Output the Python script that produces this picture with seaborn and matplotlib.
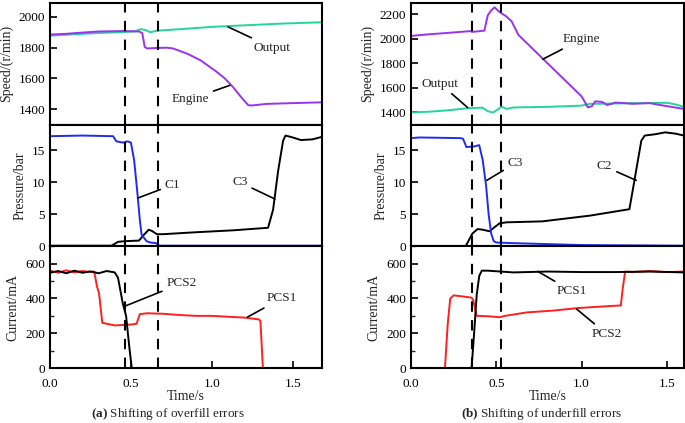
import matplotlib
matplotlib.use("Agg")
import matplotlib.pyplot as plt
import seaborn as sns
from matplotlib.ticker import MultipleLocator, FormatStrFormatter

# ── data ────────────────────────────────────────────────────────────────────
# (a) overfill errors
a_out_t = [0, 0.1, 0.2, 0.3, 0.46, 0.52, 0.56, 0.59, 0.62, 0.66, 0.8, 1.0, 1.2, 1.4, 1.68]
a_out_v = [1878, 1884, 1890, 1895, 1902, 1905, 1920, 1915, 1900, 1910, 1920, 1935, 1945, 1955, 1965]
a_eng_t = [0, 0.1, 0.2, 0.3, 0.45, 0.55, 0.57, 0.585, 0.6, 0.66, 0.72, 0.76, 0.85, 0.93,
           1.03, 1.08, 1.13, 1.18, 1.225, 1.25, 1.34, 1.5, 1.68]
a_eng_v = [1885, 1890, 1898, 1905, 1908, 1905, 1895, 1805, 1795, 1798, 1800, 1795, 1760, 1718,
           1643, 1600, 1545, 1480, 1426, 1425, 1435, 1440, 1445]
a_c1_t = [0, 0.2, 0.39, 0.41, 0.45, 0.48, 0.50, 0.52, 0.54, 0.555, 0.566, 0.597, 0.62, 0.655, 0.675, 1.0, 1.68]
a_c1_v = [17.2, 17.3, 17.2, 16.4, 16.2, 16.4, 16.2, 13.4, 8.3, 4.1, 1.8, 0.8, 0.6, 0.5, 0.1, 0.1, 0.1]
a_c3_t = [0, 0.38, 0.42, 0.46, 0.55, 0.58, 0.61, 0.63, 0.66, 0.70, 0.9, 1.13, 1.347, 1.378, 1.41,
          1.44, 1.455, 1.5, 1.55, 1.62, 1.68]
a_c3_v = [0.1, 0.1, 0.7, 0.8, 0.9, 1.8, 2.6, 2.4, 1.9, 1.9, 2.2, 2.5, 2.9, 5.7, 11.9,
          16.5, 17.3, 17.0, 16.6, 16.7, 17.1]
a_pcs2_t = [0, 0.05, 0.1, 0.15, 0.2, 0.25, 0.3, 0.35, 0.40, 0.42, 0.45, 0.47, 0.49, 0.505, 0.55, 1.68]
a_pcs2_v = [548, 558, 545, 560, 548, 556, 545, 558, 550, 520, 370, 300, 120, 0, 0, 0]
a_pcs1_t = [0, 0.05, 0.1, 0.15, 0.2, 0.25, 0.273, 0.29, 0.303, 0.323, 0.4, 0.5, 0.535, 0.555,
            0.6, 0.7, 0.8, 0.9, 1.0, 1.1, 1.2, 1.29, 1.30, 1.315, 1.68]
a_pcs1_v = [560, 548, 562, 550, 558, 552, 555, 470, 430, 260, 245, 250, 255, 310,
            315, 312, 305, 300, 300, 295, 290, 280, 270, 0, 0]

# (b) underfill errors
b_eng_t = [0, 0.1, 0.2, 0.345, 0.36, 0.43, 0.45, 0.47, 0.49, 0.52, 0.56, 0.59, 0.63, 0.8, 1.0,
           1.037, 1.06, 1.08, 1.12, 1.15, 1.2, 1.3, 1.4, 1.46, 1.6]
b_eng_v = [2022, 2035, 2045, 2061, 2055, 2065, 2190, 2230, 2255, 2215, 2180, 2140, 2030, 1800, 1530,
           1441, 1450, 1490, 1485, 1460, 1480, 1470, 1475, 1460, 1428]
b_out_t = [0, 0.1, 0.2, 0.345, 0.42, 0.45, 0.48, 0.51, 0.53, 0.56, 0.6, 0.8, 1.0, 1.05, 1.1,
           1.3, 1.5, 1.55, 1.6]
b_out_v = [1400, 1405, 1415, 1435, 1438, 1410, 1398, 1425, 1447, 1428, 1440, 1445, 1455, 1470, 1470,
           1475, 1478, 1465, 1445]
b_c3_t = [0, 0.05, 0.29, 0.305, 0.325, 0.37, 0.40, 0.42, 0.44, 0.455, 0.47, 0.485, 0.5, 0.6, 1.0, 1.6]
b_c3_v = [16.9, 17.0, 16.9, 16.8, 15.5, 15.6, 15.8, 13.5, 9.5, 5.0, 2.0, 0.8, 0.6, 0.5, 0.2, 0.1]
b_c2_t = [0, 0.32, 0.34, 0.36, 0.39, 0.42, 0.46, 0.49, 0.52, 0.56, 0.77, 1.05, 1.28, 1.30, 1.32,
          1.35, 1.37, 1.43, 1.49, 1.55, 1.6]
b_c2_v = [0, 0, 1.0, 2.0, 2.7, 2.6, 2.35, 3.0, 3.6, 3.75, 3.9, 4.8, 5.8, 8.8, 11.9,
          16.5, 17.3, 17.5, 17.8, 17.6, 17.3]
b_pcs2_t = [0, 0.199, 0.215, 0.23, 0.25, 0.3, 0.355, 0.365, 0.385, 0.45, 0.52, 0.55, 0.68, 0.83,
            0.98, 1.14, 1.23, 1.24, 1.255, 1.3, 1.4, 1.5, 1.6]
b_pcs2_v = [0, 0, 250, 400, 418, 412, 405, 390, 300, 298, 292, 300, 320, 330,
            345, 355, 360, 450, 555, 552, 558, 552, 555]
b_pcs1_t = [0, 0.355, 0.37, 0.385, 0.40, 0.415, 0.45, 0.6, 0.8, 1.0, 1.2, 1.4, 1.6]
b_pcs1_v = [0, 0, 200, 420, 530, 560, 560, 550, 555, 552, 552, 555, 550]

a_marks = [0.463, 0.665]
b_marks = [0.357, 0.53]

PURPLE = "#9933ee"
GREEN = "#22d69a"
BLUE = "#1f2cf0"
RED = "#ff1f1f"

# ── style ───────────────────────────────────────────────────────────────────
sns.set_theme(style="ticks")
plt.rcParams["font.family"] = ["Liberation Serif", "DejaVu Serif"]
plt.rcParams["mathtext.fontset"] = "custom"
plt.rcParams["mathtext.bf"] = "Liberation Serif:bold"
plt.rcParams["mathtext.rm"] = "Liberation Serif"
plt.rcParams["font.size"] = 9.5

fig = plt.figure(figsize=(6.85, 4.23), dpi=100)
h = (0.9929 - 0.130) / 3
cols = {"a": (0.073, 0.397, 1.68), "b": (0.600, 0.3985, 1.60)}
axes = {}
for key, (left, width, xmax) in cols.items():
    axes[key] = [fig.add_axes([left, 0.130 + (2 - i) * h, width, h]) for i in range(3)]
    for ax in axes[key]:
        ax.set_xlim(0, xmax)
        for sp in ax.spines.values():
            sp.set_linewidth(1.5)
            sp.set_color("black")
        ax.tick_params(direction="in", length=5, width=1.2, labelsize=9.5, colors="black")
        ax.tick_params(axis="x", pad=7)
        ax.tick_params(which="minor", direction="in", length=3, width=1.0)
        ax.xaxis.set_major_locator(MultipleLocator(0.5))
        ax.xaxis.set_major_formatter(FormatStrFormatter("%.1f"))
    for ax in axes[key][:2]:
        ax.tick_params(axis="x", labelbottom=False, length=0)

LW = 1.4
def line(ax, t, v, color):
    sns.lineplot(x=t, y=v, ax=ax, color=color, linewidth=LW, estimator=None, sort=False)

def note(ax, text, xy, xytext, ha="left"):
    ax.annotate(text, xy=xy, xytext=xytext, ha=ha, va="center", fontsize=9.5,
                arrowprops=dict(arrowstyle="-", color="black", lw=1.2, shrinkA=1, shrinkB=0))

# ── (a) overfill ────────────────────────────────────────────────────────────
s, p, c = axes["a"]
line(s, a_out_t, a_out_v, GREEN)
line(s, a_eng_t, a_eng_v, PURPLE)
s.set_ylim(1300, 2090)
s.yaxis.set_major_locator(MultipleLocator(200))
note(s, "Output", (1.10, 1935), (1.26, 1800))
note(s, "Engine", (1.11, 1555), (0.75, 1465))

line(p, a_c3_t, a_c3_v, "black")
line(p, a_c1_t, a_c1_v, BLUE)
p.set_ylim(0, 19)
p.yaxis.set_major_locator(MultipleLocator(5))
note(p, "C1", (0.543, 7.55), (0.71, 9.6))
note(p, "C3", (1.389, 7.4), (1.22, 10.0), ha="right")

line(c, a_pcs1_t, a_pcs1_v, RED)
line(c, a_pcs2_t, a_pcs2_v, "black")
c.set_ylim(0, 700)
c.yaxis.set_major_locator(MultipleLocator(200))
c.yaxis.set_minor_locator(MultipleLocator(100))
note(c, "PCS2", (0.463, 356), (0.72, 487))
note(c, "PCS1", (1.22, 293), (1.34, 402))

# ── (b) underfill ───────────────────────────────────────────────────────────
s, p, c = axes["b"]
line(s, b_out_t, b_out_v, GREEN)
line(s, b_eng_t, b_eng_v, PURPLE)
s.set_ylim(1300, 2290)
s.yaxis.set_major_locator(MultipleLocator(200))
note(s, "Engine", (0.772, 1832), (0.889, 1995))
note(s, "Output", (0.333, 1438), (0.17, 1635), ha="center")

line(p, b_c2_t, b_c2_v, "black")
line(p, b_c3_t, b_c3_v, BLUE)
p.set_ylim(0, 19)
p.yaxis.set_major_locator(MultipleLocator(5))
note(p, "C3", (0.444, 10.3), (0.567, 13.0))
note(p, "C2", (1.32, 10.3), (1.18, 12.5), ha="right")

line(c, b_pcs2_t, b_pcs2_v, RED)
line(c, b_pcs1_t, b_pcs1_v, "black")
c.set_ylim(0, 700)
c.yaxis.set_major_locator(MultipleLocator(200))
c.yaxis.set_minor_locator(MultipleLocator(100))
note(c, "PCS1", (0.743, 556), (0.854, 442))
note(c, "PCS2", (0.971, 339), (1.058, 196))

# ── shared decorations ──────────────────────────────────────────────────────
for key, marks, cx, cap in [("a", a_marks, 0.245, r"$\mathbf{(a)}$ Shifting of overfill errors"),
                            ("b", b_marks, 0.79, r"$\mathbf{(b)}$ Shifting of underfill errors")]:
    s, p, c = axes[key]
    for ax in (s, p, c):
        for m in marks:
            ax.axvline(m, color="black", lw=1.5, ls=(0, (5, 4)))
        ax.set_xlabel("")
    s.set_ylabel("Speed/(r/min)", fontsize=10)
    p.set_ylabel("Pressure/bar", fontsize=10)
    c.set_ylabel("Current/mA", fontsize=10)
    c.set_xlabel("Time/s", fontsize=10, labelpad=0)
    fig.text(cx, 0.021, cap, ha="center", va="center", fontsize=9.5)

fig.align_ylabels(axes["a"])
fig.align_ylabels(axes["b"])
fig.savefig("out.png", dpi=100)
